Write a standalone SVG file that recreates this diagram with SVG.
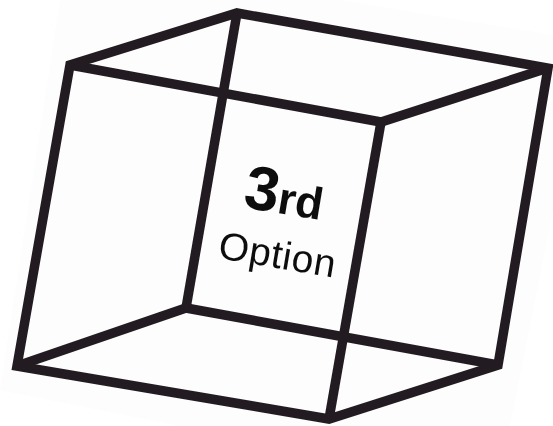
<svg xmlns="http://www.w3.org/2000/svg" width="553" height="426" viewBox="0 0 553 426">
<style>
.e{stroke:#231f20;stroke-width:9.5;fill:none;stroke-linejoin:miter;stroke-miterlimit:10;stroke-linecap:butt}
text{font-family:"Liberation Sans",Arial,sans-serif;fill:#111}
</style>
<defs><filter id="s" x="-5%" y="-5%" width="110%" height="110%"><feGaussianBlur stdDeviation="0.6"/></filter></defs>
<rect width="553" height="426" fill="#ffffff"/>
<polygon points="60,0 340,0 553,35 553,210 510,426 180,426 0,390" fill="#fdfdfd"/>
<g id="connectors" filter="url(#s)">
<path class="e" d="M237,13 L548,68 L498,365 L329,419 L17,366 L70,65 Z"/>
<path class="e" d="M70,65 L381,122 L548,68"/>
<path class="e" d="M381,122 L329,419"/>
<path class="e" d="M237,13 L186,308"/>
<path class="e" d="M17,366 L186,308 L498,365"/>
</g>
<g id="label" filter="url(#s)">
<text transform="translate(242,207) rotate(9.5)" font-size="62" font-weight="700">3<tspan font-size="45">rd</tspan></text>
<text transform="translate(217,258) rotate(9.5)" font-size="39" letter-spacing="0.6">Option</text>
</g>
</svg>
